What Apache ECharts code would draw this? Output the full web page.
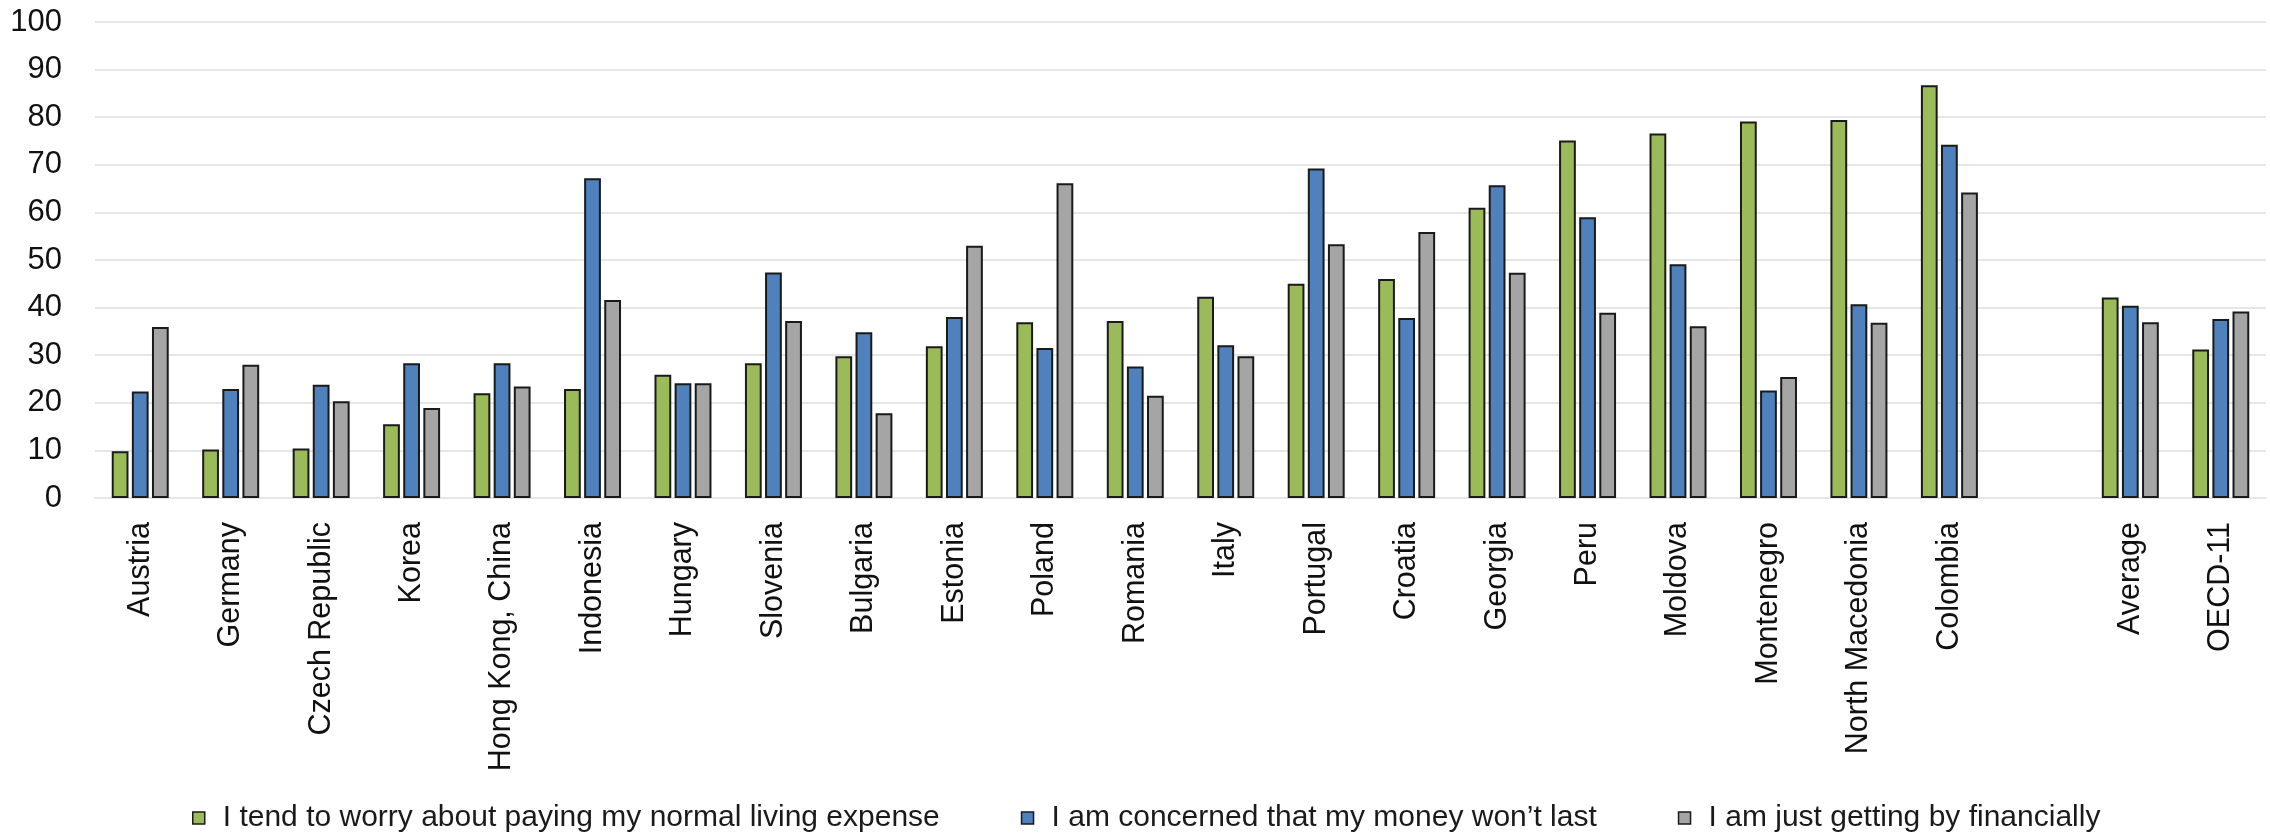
<!DOCTYPE html>
<html>
<head>
<meta charset="utf-8">
<script src="https://cdn.jsdelivr.net/npm/echarts@6/dist/echarts.min.js"></script>
<style>
  html, body { margin: 0; padding: 0; background: #ffffff; }
  #chart { width: 2270px; height: 840px; }
</style>
</head>
<body>
<div id="chart"></div>
<script>
// Countries, a spacer, then the two aggregate groups
const categories = [
  'Austria', 'Germany', 'Czech Republic', 'Korea', 'Hong Kong, China', 'Indonesia',
  'Hungary', 'Slovenia', 'Bulgaria', 'Estonia', 'Poland', 'Romania', 'Italy',
  'Portugal', 'Croatia', 'Georgia', 'Peru', 'Moldova', 'Montenegro',
  'North Macedonia', 'Colombia', '', 'Average', 'OECD-11'
];

const seriesNames = [
  'I tend to worry about paying my normal living expense',
  'I am concerned that my money won\u2019t last',
  'I am just getting by financially'
];

// Share of respondents (%)
const worryExpenses = [9.8, 10.2, 10.4, 15.5, 22.0, 22.9, 25.9, 28.3, 29.8, 31.9, 36.9, 37.2, 42.3,
  45.0, 46.0, 61.0, 75.1, 76.6, 79.1, 79.4, 86.7, null, 42.1, 31.2];
const moneyWontLast = [22.4, 22.9, 23.8, 28.3, 28.3, 67.2, 24.1, 47.4, 34.8, 38.0, 31.5, 27.6, 32.1,
  69.2, 37.8, 65.7, 59.0, 49.1, 22.6, 40.7, 74.2, null, 40.4, 37.6];
const gettingBy = [35.9, 28.0, 20.3, 18.9, 23.4, 41.6, 24.1, 37.2, 17.8, 53.0, 66.1, 21.5, 29.8,
  53.3, 55.9, 47.3, 38.9, 36.1, 25.4, 36.8, 64.2, null, 36.9, 39.2];

const yTicks = { min: 0, max: 100, interval: 10 };

const FONT = "'Liberation Sans', Arial, sans-serif";
const colors = ['#9BBB59', '#4F81BD', '#A5A5A5'];
const values = [worryExpenses, moneyWontLast, gettingBy];

const chart = echarts.init(document.getElementById('chart'), null, { renderer: 'canvas' });

chart.setOption({
  backgroundColor: '#ffffff',
  animation: false,
  grid: { left: 95, right: 4, top: 22, bottom: 342, containLabel: false },
  legend: {
    left: 187,
    top: 798,
    itemWidth: 12,
    itemHeight: 12,
    itemGap: 81,
    icon: 'rect',
    textStyle: {
      fontFamily: FONT,
      fontSize: 30,
      color: '#1a1a1a',
      padding: [0, 0, 0, 13]
    },
    itemStyle: { borderColor: '#1a1a1a', borderWidth: 1.5 },
    data: seriesNames
  },
  xAxis: {
    type: 'category',
    data: categories,
    axisLine: { show: true, lineStyle: { color: '#e6e6e6', width: 2 } },
    axisTick: { show: false },
    axisLabel: {
      rotate: 90,
      interval: 0,
      margin: 24,
      fontFamily: FONT,
      fontSize: 30.5,
      color: '#111111'
    }
  },
  yAxis: {
    type: 'value',
    min: yTicks.min,
    max: yTicks.max,
    interval: yTicks.interval,
    axisLine: { show: false },
    axisTick: { show: false },
    splitLine: { show: true, lineStyle: { color: '#e6e6e6', width: 2 } },
    axisLabel: {
      margin: 33,
      fontFamily: FONT,
      fontSize: 31,
      color: '#111111'
    }
  },
  series: seriesNames.map((name, i) => ({
    name: name,
    type: 'bar',
    data: values[i],
    barGap: '20%',
    barCategoryGap: '37%',
    itemStyle: {
      color: colors[i],
      borderColor: '#1a1a1a',
      borderWidth: 2
    }
  }))
});
</script>
</body>
</html>
